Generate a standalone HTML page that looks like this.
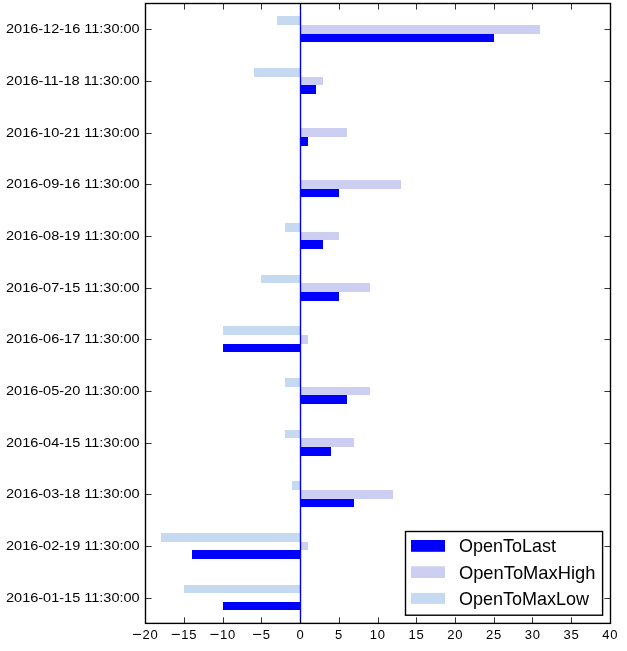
<!DOCTYPE html><html><head><meta charset="utf-8"><style>html,body{margin:0;padding:0;background:#fff;width:627px;height:651px;overflow:hidden}svg{display:block;will-change:transform}text{font-family:"Liberation Sans",sans-serif;fill:#000}</style></head><body>
<svg width="627" height="651" viewBox="0 0 627 651">
<rect x="0" y="0" width="627" height="651" fill="#fff"/>
<rect x="223" y="602" width="77" height="8" fill="#0000ff"/>
<rect x="184" y="585" width="116" height="8" fill="#c5d9f1"/>
<rect x="192" y="550" width="108" height="9" fill="#0000ff"/>
<rect x="300" y="542" width="8" height="8" fill="#cdcff2"/>
<rect x="161" y="533" width="139" height="9" fill="#c5d9f1"/>
<rect x="300" y="499" width="54" height="8" fill="#0000ff"/>
<rect x="300" y="490" width="93" height="9" fill="#cdcff2"/>
<rect x="292" y="481" width="8" height="9" fill="#c5d9f1"/>
<rect x="300" y="447" width="31" height="9" fill="#0000ff"/>
<rect x="300" y="438" width="54" height="9" fill="#cdcff2"/>
<rect x="285" y="430" width="15" height="8" fill="#c5d9f1"/>
<rect x="300" y="395" width="47" height="9" fill="#0000ff"/>
<rect x="300" y="387" width="70" height="8" fill="#cdcff2"/>
<rect x="285" y="378" width="15" height="9" fill="#c5d9f1"/>
<rect x="223" y="344" width="77" height="8" fill="#0000ff"/>
<rect x="300" y="335" width="8" height="9" fill="#cdcff2"/>
<rect x="223" y="326" width="77" height="9" fill="#c5d9f1"/>
<rect x="300" y="292" width="39" height="9" fill="#0000ff"/>
<rect x="300" y="283" width="70" height="9" fill="#cdcff2"/>
<rect x="261" y="275" width="39" height="8" fill="#c5d9f1"/>
<rect x="300" y="240" width="23" height="9" fill="#0000ff"/>
<rect x="300" y="232" width="39" height="8" fill="#cdcff2"/>
<rect x="285" y="223" width="15" height="9" fill="#c5d9f1"/>
<rect x="300" y="189" width="39" height="8" fill="#0000ff"/>
<rect x="300" y="180" width="101" height="9" fill="#cdcff2"/>
<rect x="300" y="137" width="8" height="9" fill="#0000ff"/>
<rect x="300" y="128" width="47" height="9" fill="#cdcff2"/>
<rect x="300" y="85" width="16" height="9" fill="#0000ff"/>
<rect x="300" y="77" width="23" height="8" fill="#cdcff2"/>
<rect x="254" y="68" width="46" height="9" fill="#c5d9f1"/>
<rect x="300" y="34" width="194" height="8" fill="#0000ff"/>
<rect x="300" y="25" width="240" height="9" fill="#cdcff2"/>
<rect x="277" y="16" width="23" height="9" fill="#c5d9f1"/>
<line x1="300.5" y1="3.5" x2="300.5" y2="623.4" stroke="#0000ff" stroke-width="1.39"/>
<path d="M145.50 623.4V617.30M145.50 3.5V9.60M184.50 623.4V617.30M184.50 3.5V9.60M223.50 623.4V617.30M223.50 3.5V9.60M261.50 623.4V617.30M261.50 3.5V9.60M300.50 623.4V617.30M300.50 3.5V9.60M339.50 623.4V617.30M339.50 3.5V9.60M378.50 623.4V617.30M378.50 3.5V9.60M416.50 623.4V617.30M416.50 3.5V9.60M455.50 623.4V617.30M455.50 3.5V9.60M494.50 623.4V617.30M494.50 3.5V9.60M532.50 623.4V617.30M532.50 3.5V9.60M571.50 623.4V617.30M571.50 3.5V9.60M610.50 623.4V617.30M610.50 3.5V9.60M145.5 598.50H151.60M610.5 598.50H604.40M145.5 546.50H151.60M610.5 546.50H604.40M145.5 494.50H151.60M610.5 494.50H604.40M145.5 443.50H151.60M610.5 443.50H604.40M145.5 391.50H151.60M610.5 391.50H604.40M145.5 339.50H151.60M610.5 339.50H604.40M145.5 288.50H151.60M610.5 288.50H604.40M145.5 236.50H151.60M610.5 236.50H604.40M145.5 184.50H151.60M610.5 184.50H604.40M145.5 133.50H151.60M610.5 133.50H604.40M145.5 81.50H151.60M610.5 81.50H604.40M145.5 29.50H151.60M610.5 29.50H604.40" stroke="#000" stroke-width="0.8" fill="none"/>
<rect x="405.5" y="531.5" width="197.10" height="83.70" fill="#fff" stroke="#000" stroke-width="1.39"/>
<rect x="411" y="540.0" width="34" height="11.8" fill="#0000ff"/>
<text x="458.96" y="552" font-size="17.8" textLength="97.06" lengthAdjust="spacingAndGlyphs">OpenToLast</text>
<rect x="411" y="566.3" width="34" height="11.7" fill="#cdcff2"/>
<text x="458.95" y="579" font-size="17.8" textLength="136.43" lengthAdjust="spacingAndGlyphs">OpenToMaxHigh</text>
<rect x="411" y="592.9" width="34" height="11.0" fill="#c5d9f1"/>
<text x="458.96" y="605" font-size="17.8" textLength="130.10" lengthAdjust="spacingAndGlyphs">OpenToMaxLow</text>
<rect x="145.5" y="3.5" width="465.00" height="619.90" fill="none" stroke="#000" stroke-width="1.39"/>
<text x="6.00" y="602" font-size="13.0" textLength="133.67" lengthAdjust="spacingAndGlyphs">2016-01-15 11:30:00</text>
<text x="6.00" y="550" font-size="13.0" textLength="133.67" lengthAdjust="spacingAndGlyphs">2016-02-19 11:30:00</text>
<text x="6.00" y="498" font-size="13.0" textLength="133.67" lengthAdjust="spacingAndGlyphs">2016-03-18 11:30:00</text>
<text x="6.00" y="447" font-size="13.0" textLength="133.67" lengthAdjust="spacingAndGlyphs">2016-04-15 11:30:00</text>
<text x="6.00" y="395" font-size="13.0" textLength="133.67" lengthAdjust="spacingAndGlyphs">2016-05-20 11:30:00</text>
<text x="6.00" y="343" font-size="13.0" textLength="133.67" lengthAdjust="spacingAndGlyphs">2016-06-17 11:30:00</text>
<text x="6.00" y="292" font-size="13.0" textLength="133.67" lengthAdjust="spacingAndGlyphs">2016-07-15 11:30:00</text>
<text x="6.00" y="240" font-size="13.0" textLength="133.67" lengthAdjust="spacingAndGlyphs">2016-08-19 11:30:00</text>
<text x="6.00" y="188" font-size="13.0" textLength="133.67" lengthAdjust="spacingAndGlyphs">2016-09-16 11:30:00</text>
<text x="6.00" y="137" font-size="13.0" textLength="133.67" lengthAdjust="spacingAndGlyphs">2016-10-21 11:30:00</text>
<text x="6.00" y="85" font-size="13.0" textLength="133.67" lengthAdjust="spacingAndGlyphs">2016-11-18 11:30:00</text>
<text x="6.00" y="33" font-size="13.0" textLength="133.67" lengthAdjust="spacingAndGlyphs">2016-12-16 11:30:00</text>
<rect x="132.96" y="633.9" width="8.1" height="1.05" fill="#000"/>
<text x="142.43 150.55" y="639" font-size="13.0">20</text>
<rect x="171.69" y="633.9" width="8.1" height="1.05" fill="#000"/>
<text x="181.25 189.22" y="639" font-size="13.0">15</text>
<rect x="210.41" y="633.9" width="8.1" height="1.05" fill="#000"/>
<text x="219.98 228.00" y="639" font-size="13.0">10</text>
<rect x="253.11" y="633.9" width="8.1" height="1.05" fill="#000"/>
<text x="262.70" y="639" font-size="13.0">5</text>
<text x="296.43" y="639" font-size="13.0">0</text>
<text x="335.11" y="639" font-size="13.0">5</text>
<text x="369.84 377.86" y="639" font-size="13.0">10</text>
<text x="408.57 416.54" y="639" font-size="13.0">15</text>
<text x="447.19 455.31" y="639" font-size="13.0">20</text>
<text x="485.92 493.99" y="639" font-size="13.0">25</text>
<text x="524.82 532.76" y="639" font-size="13.0">30</text>
<text x="563.55 571.44" y="639" font-size="13.0">35</text>
<text x="602.26 610.21" y="639" font-size="13.0">40</text>
</svg></body></html>
